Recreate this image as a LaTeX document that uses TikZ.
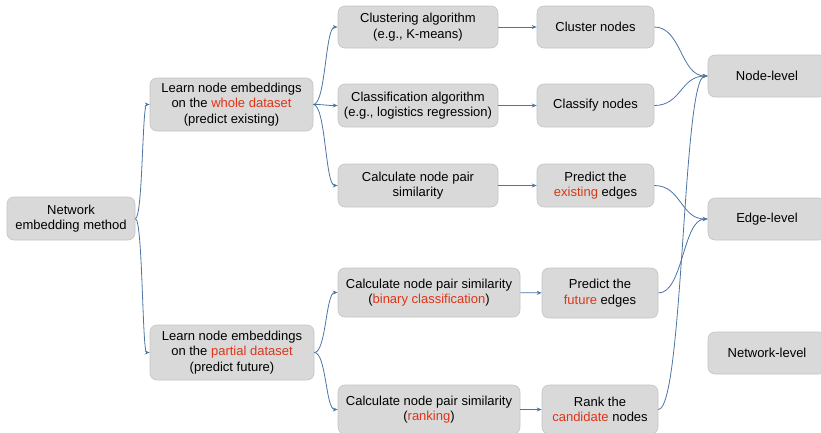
\documentclass[tikz,border=0pt]{standalone}
\usepackage{fontspec}
\setmainfont{Liberation Sans}
\usetikzlibrary{arrows.meta}
\definecolor{boxgray}{RGB}{217,217,217}
\definecolor{boxline}{RGB}{196,196,196}
\definecolor{linkblue}{RGB}{76,116,164}
\definecolor{hired}{RGB}{222,53,24}
\newcommand{\hl}[1]{\textcolor{hired}{#1}}
\tikzset{
  stepbox/.style={draw=boxline, fill=boxgray, rounded corners=7pt, line width=0.6pt,
    align=center, inner sep=0pt, font=\fontsize{13}{15.5}\selectfont},
  link/.style={draw=linkblue, line width=0.8pt, -{Stealth[length=5pt,width=4pt]}},
  curv/.style={out=0, in=180, distance=#1}
}
\begin{document}
\begin{tikzpicture}[x=1pt, y=-1pt]
    \useasboundingbox (0,0) rectangle (821,432);
    \clip (0,0) rectangle (821,432);
    \node[stepbox, minimum width=128, minimum height=43] (net) at (71,218.5) {Network\\embedding method};
    \node[stepbox, minimum width=163, minimum height=53] (whole) at (231.5,104.5) {Learn node embeddings\\on the \hl{whole dataset}\\(predict existing)};
    \node[stepbox, minimum width=164, minimum height=55] (part) at (232,352.5) {Learn node embeddings\\on the \hl{partial dataset}\\(predict future)};
    \node[stepbox, minimum width=160, minimum height=42] (clus) at (418,27) {Clustering algorithm\\(e.g., K-means)};
    \node[stepbox, minimum width=160, minimum height=43] (clas) at (418,105.5) {Classification algorithm\\(e.g., logistics regression)};
    \node[stepbox, minimum width=160, minimum height=43] (sim) at (418,185.5) {Calculate node pair\\similarity};
    \node[stepbox, minimum width=182, minimum height=49] (simb) at (429,292.5) {Calculate node pair similarity\\(\hl{binary classification})};
    \node[stepbox, minimum width=182, minimum height=49] (simr) at (429,409.5) {Calculate node pair similarity\\(\hl{ranking})};
    \node[stepbox, minimum width=117, minimum height=42] (clusn) at (595.5,27) {Cluster nodes};
    \node[stepbox, minimum width=117, minimum height=43] (clasn) at (595.5,105.5) {Classify nodes};
    \node[stepbox, minimum width=117, minimum height=43] (exist) at (595.5,185.5) {Predict the\\\hl{existing} edges};
    \node[stepbox, minimum width=116, minimum height=50] (fut) at (600,293) {Predict the\\\hl{future} edges};
    \node[stepbox, minimum width=116, minimum height=49] (rank) at (600,409.5) {Rank the\\\hl{candidate} nodes};
    \node[stepbox, minimum width=118, minimum height=42] (nodel) at (767,76) {Node-level};
    \node[stepbox, minimum width=118, minimum height=42] (edgel) at (767,219) {Edge-level};
    \node[stepbox, minimum width=118, minimum height=42] (netl) at (767,353) {Network-level};
    \draw[link] (net.east) to[curv=7.5] (whole.west);
    \draw[link] (net.east) to[curv=7.5] (part.west);
    \draw[link] (whole.east) to[curv=12.5] (clus.west);
    \draw[link] (whole.east) to[curv=12.5] (clas.west);
    \draw[link] (whole.east) to[curv=12.5] (sim.west);
    \draw[link] (part.east) to[curv=12] (simb.west);
    \draw[link] (part.east) to[curv=12] (simr.west);
    \draw[link] (clus) -- (clusn);
    \draw[link] (clas) -- (clasn);
    \draw[link] (sim) -- (exist);
    \draw[link] (simb) -- (fut);
    \draw[link] (simr) -- (rank);
    \draw[link] (clusn.east) to[curv=27] (nodel.west);
    \draw[link] (clasn.east) to[curv=27] (nodel.west);
    \draw[link] (exist.east) to[curv=27] (edgel.west);
    \draw[link] (fut.east) to[curv=25] (edgel.west);
    \draw[link] (rank.east) to[curv=25] (nodel.west);
  \end{tikzpicture}
\end{document}
